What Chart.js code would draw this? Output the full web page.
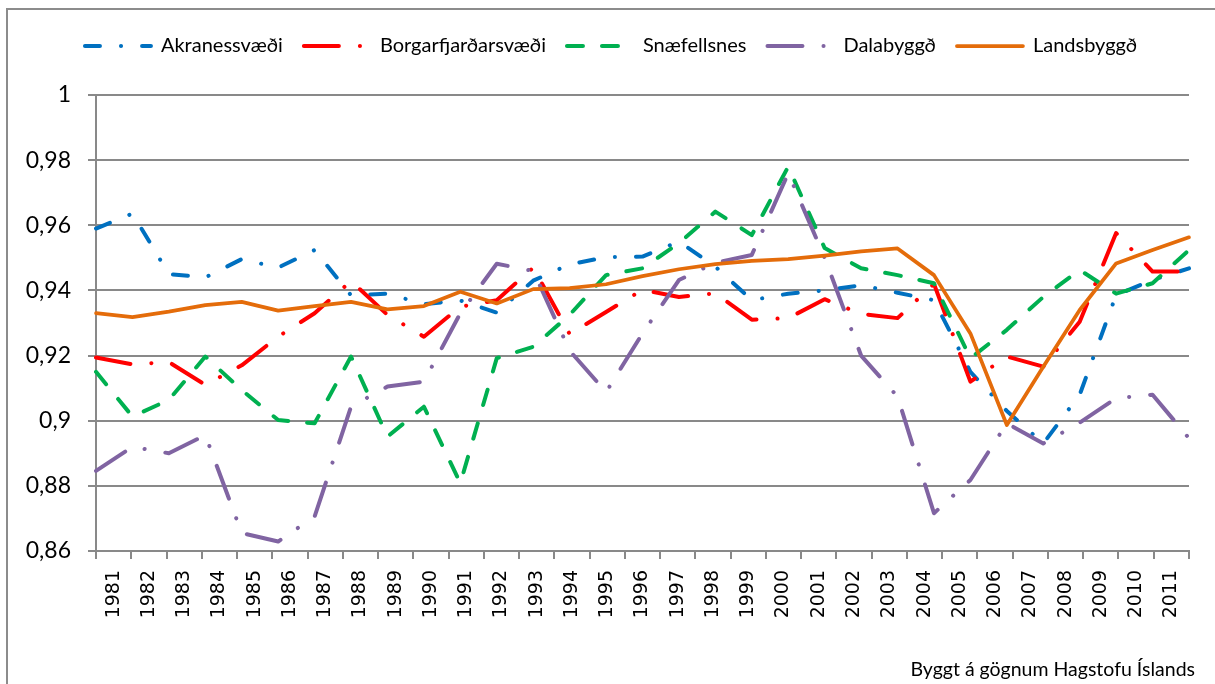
<!DOCTYPE html>
<html><head><meta charset="utf-8">
<script src="https://cdn.jsdelivr.net/npm/chart.js@4.4.0/dist/chart.umd.min.js"></script>
<style>html,body{margin:0;padding:0;background:#fff;overflow:hidden}#wrap{width:1215px;height:684px;position:relative}</style>
</head><body><div id="wrap"><canvas id="c" width="1215" height="684"></canvas></div>
<script>
const years = ["1981","1982","1983","1984","1985","1986","1987","1988","1989","1990","1991","1992","1993","1994","1995","1996","1997","1998","1999","2000","2001","2002","2003","2004","2005","2006","2007","2008","2009","2010","2011"];
const akranes = [0.959,0.9636,0.945,0.944,0.9496,0.947,0.9524,0.9385,0.939,0.9358,0.9369,0.9332,0.943,0.948,0.9502,0.9504,0.955,0.9473,0.937,0.939,0.940,0.9416,0.9393,0.937,0.915,0.903,0.893,0.908,0.9386,0.9432,0.9468];
const borgarfjordur = [0.9194,0.9173,0.918,0.911,0.917,0.9258,0.933,0.9429,0.9325,0.9258,0.935,0.937,0.947,0.9266,0.9334,0.9402,0.938,0.9391,0.931,0.9315,0.9373,0.9328,0.9315,0.942,0.912,0.9197,0.9166,0.9304,0.9576,0.9458,0.9458];
const snaefellsnes = [0.915,0.9013,0.9064,0.9197,0.9094,0.9002,0.8992,0.9197,0.8951,0.9043,0.8808,0.9192,0.9227,0.9325,0.9447,0.9468,0.9545,0.9642,0.957,0.978,0.953,0.9468,0.9447,0.9422,0.9192,0.9279,0.938,0.9463,0.939,0.9422,0.9524];
const dalabyggd = [0.8846,0.892,0.89,0.8956,0.8655,0.8629,0.8706,0.9043,0.9105,0.912,0.933,0.9482,0.946,0.9215,0.9088,0.9268,0.9432,0.9485,0.9509,0.976,0.950,0.920,0.9074,0.8716,0.8818,0.8992,0.893,0.8994,0.9069,0.908,0.8946];
const landsbyggd = [0.933,0.9318,0.9335,0.9355,0.9365,0.9338,0.9352,0.9365,0.9342,0.9352,0.9396,0.936,0.9404,0.9407,0.9419,0.9444,0.9465,0.9481,0.9491,0.9496,0.9507,0.952,0.9529,0.9447,0.9268,0.8987,0.9166,0.934,0.9483,0.9524,0.9563];
const seriesNames = ["Akranessvæði","Borgarfjarðarsvæði","Snæfellsnes","Dalabyggð","Landsbyggð"];
const yTickValues = [0.86,0.88,0.9,0.92,0.94,0.96,0.98,1];
const footerText = "Byggt á gögnum Hagstofu Íslands";

const GRID = '#898989';
function ds(label, data, color, dash, order, width) {
  return {label, data, borderColor: color, backgroundColor: color, borderWidth: width || 4,
    borderDash: dash, borderCapStyle: 'round', borderJoinStyle: 'round',
    pointRadius: 0, pointHoverRadius: 0, fill: false, tension: 0, order};
}
const frame = {
  id: 'frame',
  beforeDraw(chart) {
    const c = chart.ctx;
    c.save();
    c.fillStyle = '#fff';
    c.fillRect(0, 0, chart.width, chart.height);
    c.strokeStyle = '#8c8c8c';
    c.lineWidth = 2;
    c.strokeRect(7, 9, 1400, 900);
    c.restore();
    if (chart.legend) { chart.legend.left = 7; chart.legend.right = 1215; }
  },
  afterDraw(chart) {
    const c = chart.ctx;
    c.save();
    c.font = '19.5px Lato';
    c.fillStyle = '#000';
    c.textAlign = 'right';
    c.textBaseline = 'middle';
    c.fillText(footerText, 1195, 670);
    c.restore();
  }
};

new Chart(document.getElementById('c'), {
  type: 'line',
  data: {
    labels: years,
    datasets: [
      ds(seriesNames[0], akranes, '#0070C0', [15, 21, 0.1, 21], 5),
      ds(seriesNames[1], borgarfjordur, '#FF0000', [35, 21, 0.1, 21], 4),
      ds(seriesNames[2], snaefellsnes, '#00B050', [16, 19], 3),
      ds(seriesNames[3], dalabyggd, '#8064A2', [35, 21, 0.1, 21], 2),
      ds(seriesNames[4], landsbyggd, '#E46C0A', [], 1, 3.75)
    ]
  },
  options: {
    responsive: false,
    animation: false,
    events: [],
    layout: {padding: {left: 0, right: 26, top: 15, bottom: 0}},
    plugins: {
      legend: {
        position: 'top',
        labels: {
          usePointStyle: true, pointStyle: 'line', pointStyleWidth: 66,
          font: {family: 'Lato', size: 20}, color: '#000', padding: 21,
          generateLabels(chart) {
            return chart.data.datasets.map((d, i) => ({
              text: d.label, fillStyle: d.borderColor, strokeStyle: d.borderColor,
              lineWidth: d.borderWidth, lineDash: d.borderDash, lineDashOffset: 0,
              lineCap: 'round', lineJoin: 'round', pointStyle: 'line',
              hidden: false, datasetIndex: i, fontColor: '#000'
            }));
          }
        }
      },
      tooltip: {enabled: false}
    },
    scales: {
      xTop: {
        type: 'category', position: 'top', display: true,
        grid: {display: false}, border: {display: false}, ticks: {display: false},
        afterFit(s) { s.height = 29; }
      },
      x: {
        offset: true,
        grid: {offset: true, drawOnChartArea: false, drawTicks: true, tickLength: 8, color: GRID, lineWidth: 2},
        border: {display: true, color: GRID, width: 2},
        ticks: {autoSkip: false, maxRotation: 90, minRotation: 90, padding: 11,
          font: {family: 'DejaVu Sans', size: 19}, color: '#000'},
        afterFit(s) { s.height = 133; }
      },
      y: {
        min: 0.86, max: 1,
        afterBuildTicks(s) { s.ticks = yTickValues.map(v => ({value: v})); },
        ticks: {padding: 17, font: {family: 'Lato', size: 23}, color: '#000',
          callback: v => String(Number(Number(v).toFixed(2))).replace('.', ',')},
        grid: {color: GRID, lineWidth: 2, tickLength: 8},
        border: {display: true, color: GRID, width: 2},
        afterFit(s) { s.width = 96; }
      }
    }
  },
  plugins: [frame]
});
</script></body></html>
